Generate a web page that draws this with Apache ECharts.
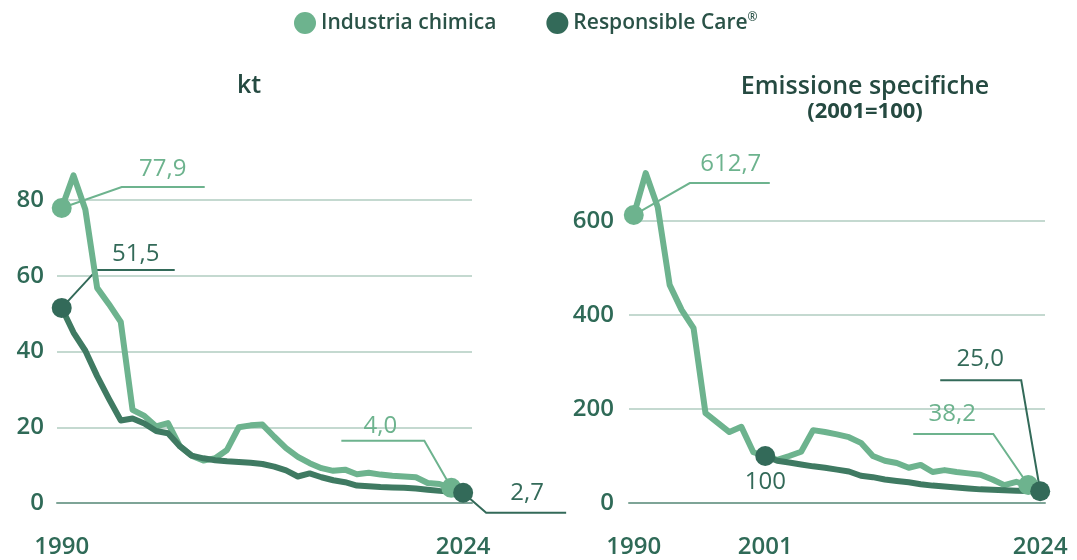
<!DOCTYPE html>
<html>
<head>
<meta charset="utf-8">
<script src="https://cdn.jsdelivr.net/npm/echarts@6/dist/echarts.min.js"></script>
<style>
  html, body { margin: 0; padding: 0; background: #ffffff; }
  #chart { width: 1077px; height: 560px; }
</style>
</head>
<body>
<div id="chart"></div>
<script>
// Emissions of the chemical industry vs. Responsible Care companies
const years = [1990, 1991, 1992, 1993, 1994, 1995, 1996, 1997, 1998, 1999,
               2000, 2001, 2002, 2003, 2004, 2005, 2006, 2007, 2008, 2009,
               2010, 2011, 2012, 2013, 2014, 2015, 2016, 2017, 2018, 2019,
               2020, 2021, 2022, 2023, 2024];
const rcIdxYears = [2001, 2002, 2003, 2004, 2005, 2006, 2007, 2008, 2009, 2010,
                    2011, 2012, 2013, 2014, 2015, 2016, 2017, 2018, 2019, 2020,
                    2021, 2022, 2023, 2024];

// kt, 1990-2023
const chemKt = [77.9, 86.5, 77.5, 56.8, 52.5, 47.8, 24.6, 23.0, 20.2, 21.1,
                15.0, 12.5, 11.2, 11.8, 14.0, 20.0, 20.5, 20.7, 17.5, 14.5,
                12.2, 10.5, 9.2, 8.5, 8.8, 7.6, 8.0, 7.5, 7.2, 7.0,
                6.8, 5.3, 5.0, 4.0];
// kt, 1990-2024
const rcKt = [51.5, 45.0, 40.2, 33.5, 27.5, 21.8, 22.3, 21.0, 19.0, 18.4,
              15.0, 12.5, 11.8, 11.3, 11.0, 10.8, 10.6, 10.3, 9.6, 8.6,
              7.0, 7.8, 6.8, 6.0, 5.5, 4.6, 4.4, 4.2, 4.1, 4.0,
              3.8, 3.5, 3.2, 3.0, 2.7];
// specific emissions, 2001=100, 1990-2023
const chemIdx = [612.7, 702, 630, 464, 411, 372, 191, 171, 151, 162,
                 108, 100, 92, 100, 109, 155, 151, 146, 140, 128,
                 100, 90, 85, 75, 81, 66, 70, 66, 63, 60,
                 50, 38, 45, 38.2];
// specific emissions, 2001=100, 2001-2024
const rcIdx = [100, 90, 86, 82, 78, 75, 71, 67, 58, 55,
               50, 47, 44, 40, 37, 35, 33, 31, 29, 28,
               27, 26, 25.5, 25.0];

const xTicksLeft = [1990, 2024];
const xTicksRight = [1990, 2001, 2024];

const LIGHT = '#6db38e';
const DARK_LINE = '#3f7a62';
const DARK = '#336a59';
const TEXT = '#2f6a57';
const HEAD = '#254a41';
const FONT = 'Open Sans';

const pairs = (xs, vs) => vs.map((v, i) => [xs[i], v]);
const fmt = v => (Number.isInteger(v) && v >= 100) ? String(v) : v.toFixed(1).replace('.', ',');

const chemKtPts = pairs(years, chemKt);
const rcKtPts = pairs(years, rcKt);
const chemIdxPts = pairs(years, chemIdx);
const rcIdxPts = pairs(rcIdxYears, rcIdx);

function lineSeries(name, pts, color, axis, z) {
  return {
    name, type: 'line', data: pts, xAxisIndex: axis, yAxisIndex: axis,
    showSymbol: false, symbol: 'none', clip: false, silent: true, z,
    lineStyle: { color, width: 6, cap: 'round', join: 'round' }
  };
}
function dotSeries(name, pts, color, axis, z) {
  return {
    name, type: 'scatter', data: pts, xAxisIndex: axis, yAxisIndex: axis,
    symbolSize: 20, clip: false, silent: true, z,
    itemStyle: { color, opacity: 1 }
  };
}
// value callout with leader line, positioned relative to the data point
function callout(pt, axis, color, lead, textOff) {
  return {
    type: 'custom', xAxisIndex: axis, yAxisIndex: axis, clip: false, silent: true, z: 3,
    data: [pt],
    renderItem(params, api) {
      const p = api.coord([api.value(0), api.value(1)]);
      const children = [];
      if (lead) {
        children.push({
          type: 'polyline',
          shape: { points: lead.map(d => [p[0] + d[0], p[1] + d[1]]) },
          style: { stroke: color, lineWidth: 2, fill: null }
        });
      }
      children.push({
        type: 'text',
        x: p[0] + textOff[0], y: p[1] + textOff[1],
        style: { text: fmt(api.value(1)), fill: color, font: '500 24px "' + FONT + '"',
                 align: 'center', verticalAlign: 'middle' }
      });
      return { type: 'group', children };
    }
  };
}

const first = a => a[0];
const last = a => a[a.length - 1];

const axisLabelY = { color: TEXT, fontFamily: FONT, fontSize: 24, fontWeight: 600, margin: 13 };
const axisLabelX = { color: TEXT, fontFamily: FONT, fontSize: 24, fontWeight: 600, margin: 32,
                     formatter: v => String(v) };

const option = {
  animation: false,
  backgroundColor: '#ffffff',
  textStyle: { fontFamily: FONT },
  legend: {
    top: 7, left: 289, itemGap: 50, itemWidth: 22, itemHeight: 22, icon: 'circle',
    selectedMode: false,
    textStyle: { color: '#2a5247', fontSize: 21, fontFamily: FONT, fontWeight: 600,
                 rich: { s: { fontSize: 12, color: '#2a5247', fontFamily: FONT, fontWeight: 600,
                              padding: [0, 0, 10, 0] } } },
    formatter: n => n.replace('®', '{s|®}'),
    data: [
      { name: 'Industria chimica', itemStyle: { color: LIGHT } },
      { name: 'Responsible Care®', itemStyle: { color: DARK } }
    ]
  },
  title: [
    { text: 'kt', left: 244, top: 68, textAlign: 'center',
      textStyle: { color: HEAD, fontSize: 25, fontWeight: 600, fontFamily: FONT } },
    { text: 'Emissione specifiche', left: 860, top: 69, textAlign: 'center',
      textStyle: { color: HEAD, fontSize: 25, fontWeight: 600, fontFamily: FONT } },
    { text: '(2001=100)', left: 860, top: 96, textAlign: 'center',
      textStyle: { color: HEAD, fontSize: 22, fontWeight: 'bold', fontFamily: FONT } }
  ],
  grid: [
    { left: 57, right: 605, top: 200, bottom: 57 },
    { left: 629, right: 32, top: 221, bottom: 57 }
  ],
  xAxis: [
    { type: 'value', gridIndex: 0, min: 1989.6, max: 2024.75,
      splitLine: { show: false }, axisTick: { show: false },
      axisLine: { show: true, lineStyle: { color: '#7ea497', width: 2 } },
      axisLabel: Object.assign({ customValues: xTicksLeft }, axisLabelX) },
    { type: 'value', gridIndex: 1, min: 1989.6, max: 2024.4,
      splitLine: { show: false }, axisTick: { show: false },
      axisLine: { show: true, lineStyle: { color: '#7ea497', width: 2 } },
      axisLabel: Object.assign({ customValues: xTicksRight }, axisLabelX) }
  ],
  yAxis: [
    { type: 'value', gridIndex: 0, min: 0, max: 80, interval: 20,
      axisLine: { show: false }, axisTick: { show: false },
      splitLine: { lineStyle: { color: '#c4d9d0', width: 2 } },
      axisLabel: axisLabelY },
    { type: 'value', gridIndex: 1, min: 0, max: 600, interval: 200,
      axisLine: { show: false }, axisTick: { show: false },
      splitLine: { lineStyle: { color: '#c4d9d0', width: 2 } },
      axisLabel: Object.assign({}, axisLabelY, { margin: 15 }) }
  ],
  series: [
    lineSeries('Industria chimica', chemKtPts, LIGHT, 0, 4),
    lineSeries('Responsible Care®', rcKtPts, DARK_LINE, 0, 5),
    lineSeries('Industria chimica', chemIdxPts, LIGHT, 1, 4),
    lineSeries('Responsible Care®', rcIdxPts, DARK_LINE, 1, 5),

    callout(first(chemKtPts), 0, LIGHT, [[0, 0], [60, -21], [143, -21]], [101, -39]),
    callout(first(rcKtPts), 0, DARK, [[0, 0], [35, -38], [113, -38]], [74, -54]),
    callout(last(chemKtPts), 0, LIGHT, [[0, 0], [-27, -47], [-110, -47]], [-71, -62]),
    callout(last(rcKtPts), 0, DARK, [[0, 0], [23, 20], [103, 20]], [64, 0]),

    callout(first(chemIdxPts), 1, LIGHT, [[0, 0], [56, -32], [136, -32]], [97, -51]),
    callout(first(rcIdxPts), 1, DARK, null, [0, 26]),
    callout(last(chemIdxPts), 1, LIGHT, [[0, 0], [-35, -51], [-115, -51]], [-76, -71]),
    callout(last(rcIdxPts), 1, DARK, [[0, 0], [-19, -111], [-100, -111]], [-60, -132]),

    dotSeries('Industria chimica', [first(chemKtPts), last(chemKtPts)], LIGHT, 0, 6),
    dotSeries('Responsible Care®', [first(rcKtPts), last(rcKtPts)], DARK, 0, 7),
    dotSeries('Industria chimica', [first(chemIdxPts), last(chemIdxPts)], LIGHT, 1, 6),
    dotSeries('Responsible Care®', [first(rcIdxPts), last(rcIdxPts)], DARK, 1, 7)
  ]
};

const chart = echarts.init(document.getElementById('chart'), null, { renderer: 'canvas' });
chart.setOption(option);
</script>
</body>
</html>
